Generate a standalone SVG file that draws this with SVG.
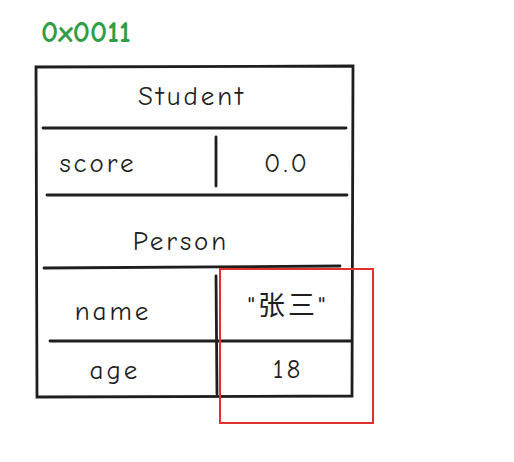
<svg xmlns="http://www.w3.org/2000/svg" width="514" height="462" viewBox="0 0 514 462">
<style>
.ln{stroke:#1e1e1e;stroke-width:2.8;fill:none;stroke-linecap:round}
.t{font-family:"Comic Neue","Liberation Sans","Noto Sans CJK SC",sans-serif;font-size:27px;letter-spacing:3px;fill:#1e1e1e;text-anchor:middle}
</style>
<rect width="514" height="462" fill="#ffffff"/>
<text id="addr" x="41" y="42" style="font-family:'Comic Neue','Liberation Sans',sans-serif;font-size:30px;font-weight:bold;letter-spacing:0px;fill:#2f9e44">0x0011</text>
<g id="object">
<path class="ln" d="M36 67 L353 66 L352 396 L37 397 Z" stroke-width="3"/>
</g>
<g id="connectors">
<path class="ln" d="M43 128 L346 128"/>
<path class="ln" d="M47 195 L347 195"/>
<path class="ln" d="M44 268 L340 266"/>
<path class="ln" d="M50 341 L351 341"/>
<path class="ln" d="M216 137 L216 186"/>
<path class="ln" d="M216 276 L217 394"/>
</g>
<g id="student"><text class="t" x="192" y="105">Student</text></g>
<g id="score"><text class="t" x="98" y="172">score</text><text class="t" x="287" y="172">0.0</text></g>
<g id="person"><text class="t" x="181" y="250">Person</text></g>
<g id="name"><text class="t" x="113" y="320">name</text><text class="t" x="288" y="315">"张三"</text></g>
<g id="age"><text class="t" x="115" y="379">age</text><text class="t" x="288" y="378">18</text></g>
<g id="highlight"><rect x="220" y="269" width="153" height="154" fill="none" stroke="#e03131" stroke-width="2"/></g>
</svg>
